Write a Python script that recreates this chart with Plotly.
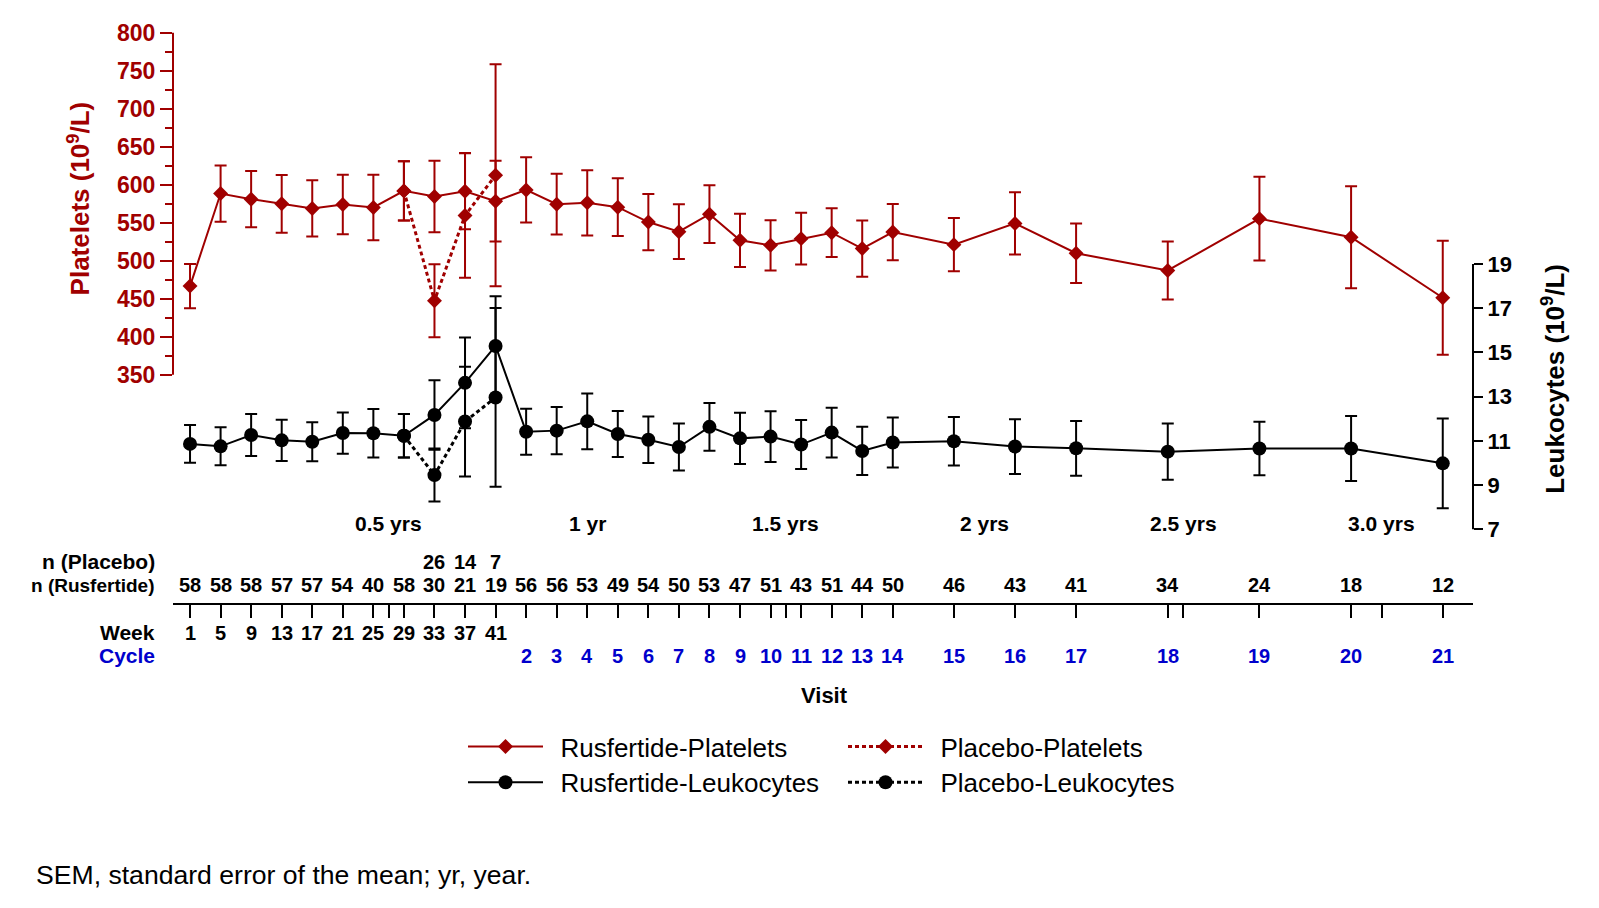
import plotly.graph_objects as go

# ---------------- data ----------------
visit_weeks = [1, 5, 9, 13, 17, 21, 25, 29, 33, 37, 41,
               45, 49, 53, 57, 61, 65, 69, 73, 77, 81, 85, 89, 93,
               101, 109, 117, 129, 141, 153, 165]
week_labels = ["1", "5", "9", "13", "17", "21", "25", "29", "33", "37", "41"]
cycle_labels = ["2", "3", "4", "5", "6", "7", "8", "9", "10", "11", "12", "13",
                "14", "15", "16", "17", "18", "19", "20", "21"]
n_rusfertide = [58, 58, 58, 57, 57, 54, 40, 58, 30, 21, 19,
                56, 56, 53, 49, 54, 50, 53, 47, 51, 43, 51, 44, 50,
                46, 43, 41, 34, 24, 18, 12]
placebo_weeks = [29, 33, 37, 41]
n_placebo_weeks = [33, 37, 41]
n_placebo = [26, 14, 7]

plt_rus = [466.7, 588.4, 581.0, 574.9, 568.8, 574.0, 570.1, 591.9, 584.5, 591.5, 578.4,
           593.2, 574.4, 576.2, 570.5, 550.9, 538.2, 561.3, 526.9, 520.3, 529.1, 536.9, 516.0, 537.8,
           521.2, 549.1, 509.9, 487.2, 555.4, 530.9, 451.4]
plt_rus_sem = [29, 37, 37, 38, 37, 39, 43, 39, 47, 50, 53,
               43, 40, 43, 38, 37, 36, 38, 35, 33, 34, 32, 37, 37,
               35, 41, 39, 38, 55, 67, 75]
plt_pbo = [591.9, 447.5, 559.6, 612.4]
plt_pbo_sem = [39, 48, 82, 146]

leu_rus = [10.86, 10.75, 11.26, 11.02, 10.96, 11.35, 11.34, 11.23, 12.17, 13.62, 15.29,
           11.41, 11.46, 11.88, 11.31, 11.05, 10.72, 11.63, 11.11, 11.19, 10.83, 11.37, 10.54, 10.92,
           10.98, 10.74, 10.66, 10.51, 10.65, 10.65, 9.98]
leu_rus_sem = [0.85, 0.86, 0.95, 0.93, 0.88, 0.93, 1.10, 0.98, 1.57, 2.05, 2.25,
               1.04, 1.07, 1.26, 1.04, 1.05, 1.06, 1.08, 1.16, 1.15, 1.11, 1.12, 1.09, 1.13,
               1.10, 1.24, 1.24, 1.27, 1.21, 1.47, 2.03]
leu_pbo = [11.23, 9.45, 11.87, 12.96]
leu_pbo_sem = [0.98, 1.20, 2.48, 4.04]

year_weeks = [27, 53, 79, 105, 131, 157]
year_labels = ["0.5 yrs", "1 yr", "1.5 yrs", "2 yrs", "2.5 yrs", "3.0 yrs"]
year_tick_weeks = [27, 79, 131, 157]

plt_ticks = [350, 400, 450, 500, 550, 600, 650, 700, 750, 800]
plt_minor = [375, 425, 475, 525, 575, 625, 675, 725, 775]
leu_ticks = [7, 9, 11, 13, 15, 17, 19]

# ---------------- style ----------------
RED = "#A00000"
BLUE = "#0000CC"
FONT = "Liberation Sans, Arial, sans-serif"
OFF = 8                      # page body margin of the browser
W, H = 1580, 890
PLOT_L, PLOT_R, PLOT_T, PLOT_B = 173, 1473, 30, 603   # in page pixels
ML = PLOT_L - OFF
MT = PLOT_T - OFF
MR = W - (PLOT_R - OFF)
MB = H - (PLOT_B - OFF)
PW = PLOT_R - PLOT_L
PH = PLOT_B - PLOT_T
GAP = "\u00a0\u2009"


def py(px):
    return (PLOT_B - px) / PH


def pxx(px):
    return (px - PLOT_L) / PW


fig = go.Figure()

fig.add_trace(go.Scatter(
    x=visit_weeks, y=leu_rus, mode="lines+markers", name=GAP + "Rusfertide-Leukocytes",
    line=dict(color="black", width=2), marker=dict(symbol="circle", size=14, color="black"),
    error_y=dict(type="data", array=leu_rus_sem, color="black", thickness=2, width=6),
    yaxis="y2", legend="legend2"))
fig.add_trace(go.Scatter(
    x=placebo_weeks, y=leu_pbo, mode="lines+markers", name=GAP + "Placebo-Leukocytes",
    line=dict(color="black", width=3, dash="4px,3px"), marker=dict(symbol="circle", size=14, color="black"),
    error_y=dict(type="data", array=leu_pbo_sem, color="black", thickness=2, width=6),
    yaxis="y2", legend="legend2"))
fig.add_trace(go.Scatter(
    x=visit_weeks, y=plt_rus, mode="lines+markers", name=GAP + "Rusfertide-Platelets",
    line=dict(color=RED, width=2), marker=dict(symbol="diamond", size=11.5, color=RED),
    error_y=dict(type="data", array=plt_rus_sem, color=RED, thickness=2, width=6),
    yaxis="y", legend="legend"))
fig.add_trace(go.Scatter(
    x=placebo_weeks, y=plt_pbo, mode="lines+markers", name=GAP + "Placebo-Platelets",
    line=dict(color=RED, width=3, dash="4px,3px"), marker=dict(symbol="diamond", size=11.5, color=RED),
    error_y=dict(type="data", array=plt_pbo_sem, color=RED, thickness=2, width=6),
    yaxis="y", legend="legend"))

ann = []
# year labels
for wk, lab in zip(year_weeks, year_labels):
    ann.append(dict(x=wk, y=py(523), xref="x", yref="paper", text="<b>%s</b>" % lab,
                    showarrow=False, font=dict(size=21, color="black"), xanchor="center", yanchor="middle"))
# n rows
for wk, n in zip(n_placebo_weeks, n_placebo):
    ann.append(dict(x=wk, y=py(562), xref="x", yref="paper", text="<b>%d</b>" % n,
                    showarrow=False, font=dict(size=20, color="black"), xanchor="center", yanchor="middle"))
for wk, n in zip(visit_weeks, n_rusfertide):
    ann.append(dict(x=wk, y=py(585), xref="x", yref="paper", text="<b>%d</b>" % n,
                    showarrow=False, font=dict(size=20, color="black"), xanchor="center", yanchor="middle"))
for wk, lab in zip(visit_weeks[:len(week_labels)], week_labels):
    ann.append(dict(x=wk, y=py(633), xref="x", yref="paper", text="<b>%s</b>" % lab,
                    showarrow=False, font=dict(size=20, color="black"), xanchor="center", yanchor="middle"))
for wk, lab in zip(visit_weeks[len(week_labels):], cycle_labels):
    ann.append(dict(x=wk, y=py(656), xref="x", yref="paper", text="<b>%s</b>" % lab,
                    showarrow=False, font=dict(size=20, color=BLUE), xanchor="center", yanchor="middle"))
# row labels
for txt, ypx, col, fs in [("n (Placebo)", 561, "black", 21), ("n (Rusfertide)", 585, "black", 19),
                          ("Week", 633, "black", 21), ("Cycle", 656, BLUE, 21)]:
    ann.append(dict(x=pxx(157), y=py(ypx), xref="paper", yref="paper", text="<b>%s</b>" % txt,
                    showarrow=False, font=dict(size=fs, color=col), xanchor="right", yanchor="middle"))
ann.append(dict(x=pxx(824), y=py(696), xref="paper", yref="paper", text="<b>Visit</b>",
                showarrow=False, font=dict(size=22, color="black"), xanchor="center", yanchor="middle"))
# axis titles
ann.append(dict(x=pxx(79), y=py(197), xref="paper", yref="paper",
                text="<b>Platelets (10<sup>9</sup>/L)</b>", textangle=-90,
                showarrow=False, font=dict(size=26, color=RED), xanchor="center", yanchor="middle"))
ann.append(dict(x=pxx(1554), y=py(378), xref="paper", yref="paper",
                text="<b>Leukocytes (10<sup>9</sup>/L)</b>", textangle=-90,
                showarrow=False, font=dict(size=26, color="black"), xanchor="center", yanchor="middle"))
# footnote
ann.append(dict(x=pxx(34), y=py(876), xref="paper", yref="paper",
                text="SEM, standard error of the mean; yr, year.",
                showarrow=False, font=dict(size=26.6, color="black"), xanchor="left", yanchor="middle"))

shapes = [
    dict(type="line", xref="paper", x0=0, x1=0, yref="y", y0=min(plt_ticks), y1=max(plt_ticks),
         line=dict(color=RED, width=2)),
    dict(type="line", xref="paper", x0=1, x1=1, yref="y2", y0=min(leu_ticks), y1=max(leu_ticks),
         line=dict(color="black", width=2)),
]

leg_common = dict(orientation="h", xanchor="left", yanchor="middle", font=dict(size=26, color="black"),
                  itemwidth=75, entrywidth=290, entrywidthmode="pixels", bgcolor="rgba(0,0,0,0)",
                  traceorder="normal")

fig.update_layout(
    width=W, height=H,
    margin=dict(l=ML, r=MR, t=MT, b=MB),
    plot_bgcolor="white", paper_bgcolor="white",
    font=dict(family=FONT, color="black"),
    xaxis=dict(range=[-1.23, 168.96], showline=True, linecolor="black", linewidth=2,
               ticks="outside", ticklen=13, tickwidth=2, tickcolor="black",
               tickvals=sorted(visit_weeks + year_tick_weeks), showticklabels=False,
               showgrid=False, zeroline=False),
    yaxis=dict(range=[49.86, 800.88], showline=False, showgrid=False, zeroline=False,
               ticks="outside", ticklen=12, tickwidth=2, tickcolor=RED,
               tickvals=plt_ticks, tickfont=dict(size=23, color=RED, weight="bold"),
               minor=dict(tickvals=plt_minor, ticks="outside", ticklen=7, tickwidth=2,
                          tickcolor=RED, showgrid=False)),
    yaxis2=dict(range=[3.665, 29.487], overlaying="y", side="right", anchor="x",
                showline=False, showgrid=False, zeroline=False,
                ticks="outside", ticklen=9, tickwidth=2, tickcolor="black",
                tickvals=leu_ticks, tickfont=dict(size=22, color="black", weight="bold")),
    legend=dict(x=pxx(463), y=py(747), **leg_common),
    legend2=dict(x=pxx(463), y=py(783), **leg_common),
    annotations=ann,
    shapes=shapes,
)

fig.write_html("out.html")
